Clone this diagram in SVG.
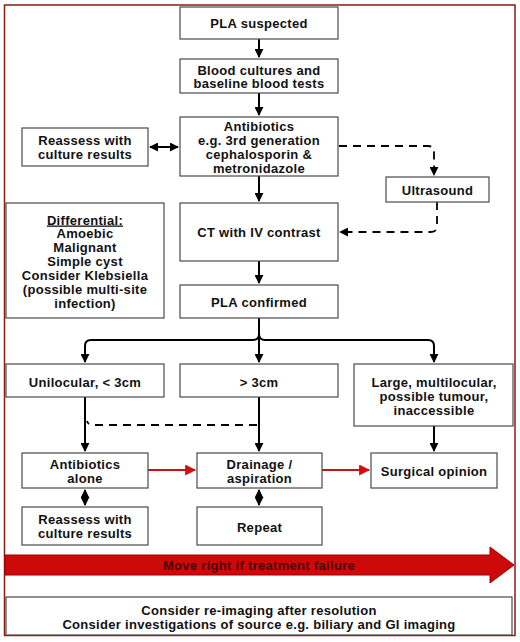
<svg xmlns="http://www.w3.org/2000/svg" width="520" height="642" viewBox="0 0 520 642">
<style>
.box{fill:#fff;stroke:#4a4a4a;stroke-width:1.2}
.t{font-family:"Liberation Sans",Arial,sans-serif;font-weight:bold;font-size:13px;letter-spacing:0.3px;fill:#111;text-anchor:middle}
.ln{fill:none;stroke:#000;stroke-width:2}
.dash{fill:none;stroke:#000;stroke-width:1.8;stroke-dasharray:8,6}
.red{fill:none;stroke:#d01010;stroke-width:2}
</style>
<defs>
<marker id="ah" viewBox="0 0 10 10" refX="9" refY="5" markerWidth="9" markerHeight="9" markerUnits="userSpaceOnUse" orient="auto-start-reverse"><path d="M0,0 L10,5 L0,10 z" fill="#000"/></marker>
<marker id="rh" viewBox="0 0 10 10" refX="9" refY="5" markerWidth="11" markerHeight="11" markerUnits="userSpaceOnUse" orient="auto"><path d="M0,0 L10,5 L0,10 z" fill="#d01010"/></marker>
</defs>
<rect width="520" height="642" fill="#fff"/>
<rect x="4.5" y="5" width="510.5" height="630.5" fill="none" stroke="#8b1a1a" stroke-width="1.5"/>

<g id="connectors">
<path class="ln" d="M259 39 V57" marker-end="url(#ah)"/>
<path class="ln" d="M259 93 V115" marker-end="url(#ah)"/>
<path class="ln" d="M150 147 H178" marker-start="url(#ah)" marker-end="url(#ah)"/>
<path class="ln" d="M259 176 V201" marker-end="url(#ah)"/>
<path class="dash" d="M339 146 H428 Q434 146 434 152 V175" marker-end="url(#ah)"/>
<path class="dash" d="M437 202 V226 Q437 232 431 232 H340" marker-end="url(#ah)"/>
<path class="ln" d="M259 261 V283" marker-end="url(#ah)"/>
<path class="ln" d="M259 318 V362" marker-end="url(#ah)"/>
<path class="ln" d="M259 334 Q259 340 253 340 H91 Q85 340 85 346 V362" marker-end="url(#ah)"/>
<path class="ln" d="M259 334 Q259 340 265 340 H428 Q434 340 434 346 V362" marker-end="url(#ah)"/>
<path class="ln" d="M85 397 V451" marker-end="url(#ah)"/>
<path class="ln" d="M259 397 V451" marker-end="url(#ah)"/>
<path class="dash" d="M257 425 H93 Q88 425 87 421"/>
<path class="ln" d="M434 426 V451" marker-end="url(#ah)"/>
<path class="red" d="M148 470 H195" marker-end="url(#rh)"/>
<path class="red" d="M322 470 H369" marker-end="url(#rh)"/>
<path class="ln" d="M85 490 V505" marker-start="url(#ah)" marker-end="url(#ah)"/>
<path class="ln" d="M259 490 V505" marker-start="url(#ah)" marker-end="url(#ah)"/>
</g>

<g id="n-suspected"><rect class="box" x="180" y="7" width="158" height="32"/><text class="t" x="259" y="27.5">PLA suspected</text></g>
<g id="n-blood"><rect class="box" x="180" y="59" width="158" height="34"/><text class="t" x="259" y="74.5">Blood cultures and</text><text class="t" x="259" y="88">baseline blood tests</text></g>
<g id="n-antibiotics"><rect class="box" x="180" y="117" width="158" height="59"/><text class="t" x="259" y="130.5">Antibiotics</text><text class="t" x="259" y="144.5">e.g. 3rd generation</text><text class="t" x="259" y="158.5">cephalosporin &amp;</text><text class="t" x="259" y="172.5">metronidazole</text></g>
<g id="n-reassess1"><rect class="box" x="22" y="128" width="126" height="38"/><text class="t" x="85" y="144.5">Reassess with</text><text class="t" x="85" y="158.5">culture results</text></g>
<g id="n-ultrasound"><rect class="box" x="386" y="177" width="103" height="25"/><text class="t" x="437.5" y="195">Ultrasound</text></g>
<g id="n-ct"><rect class="box" x="180" y="203" width="158" height="58"/><text class="t" x="259" y="236.5">CT with IV contrast</text></g>
<g id="n-differential"><rect class="box" x="6" y="203" width="158" height="115"/>
<text class="t" x="85" y="224.5" text-decoration="underline">Differential:</text>
<text class="t" x="85" y="238">Amoebic</text>
<text class="t" x="85" y="252">Malignant</text>
<text class="t" x="85" y="266">Simple cyst</text>
<text class="t" x="85" y="280">Consider Klebsiella</text>
<text class="t" x="85" y="294">(possible multi-site</text>
<text class="t" x="85" y="308">infection)</text></g>
<g id="n-confirmed"><rect class="box" x="180" y="285" width="158" height="33"/><text class="t" x="259" y="306.5">PLA confirmed</text></g>
<g id="n-unilocular"><rect class="box" x="6" y="364" width="158" height="33"/><text class="t" x="85" y="386.5">Unilocular, &lt; 3cm</text></g>
<g id="n-gt3"><rect class="box" x="180" y="364" width="158" height="33"/><text class="t" x="259" y="386.5">&gt; 3cm</text></g>
<g id="n-large"><rect class="box" x="354" y="364" width="159" height="62"/><text class="t" x="434" y="387">Large, multilocular,</text><text class="t" x="434" y="401">possible tumour,</text><text class="t" x="434" y="415">inaccessible</text></g>
<g id="n-abalone"><rect class="box" x="22" y="453" width="126" height="35"/><text class="t" x="85" y="468.5">Antibiotics</text><text class="t" x="85" y="482.5">alone</text></g>
<g id="n-drainage"><rect class="box" x="197" y="453" width="125" height="35"/><text class="t" x="259.5" y="468.5">Drainage /</text><text class="t" x="259.5" y="482.5">aspiration</text></g>
<g id="n-surgical"><rect class="box" x="371" y="453" width="126" height="35"/><text class="t" x="434" y="475.5">Surgical opinion</text></g>
<g id="n-reassess2"><rect class="box" x="22" y="507" width="126" height="38"/><text class="t" x="85" y="523.5">Reassess with</text><text class="t" x="85" y="537.5">culture results</text></g>
<g id="n-repeat"><rect class="box" x="197" y="507" width="125" height="38"/><text class="t" x="259.5" y="531.5">Repeat</text></g>

<g id="n-moveright">
<path d="M5 555 H490 V547 L514 565 L490 583 V575 H5 Z" fill="#cc0a0a" stroke="#9a0000" stroke-width="1"/>
<text class="t" x="259" y="569.5" style="fill:#4a0000">Move right if treatment failure</text>
</g>
<g id="n-bottom"><rect class="box" x="6" y="597" width="506" height="38"/><text class="t" x="259" y="614.5">Consider re-imaging after resolution</text><text class="t" x="259" y="628.5">Consider investigations of source e.g. biliary and GI imaging</text></g>
</svg>
